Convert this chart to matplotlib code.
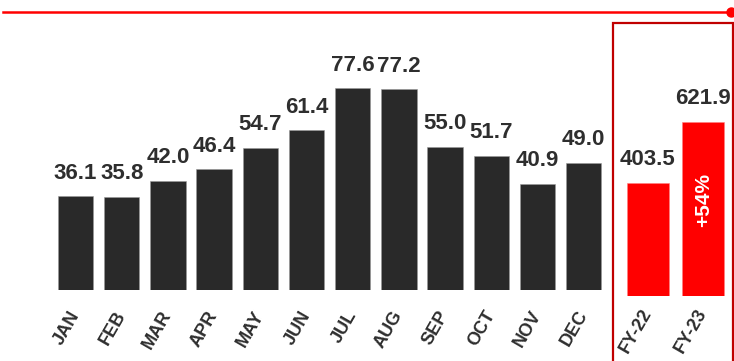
import matplotlib.pyplot as plt
from matplotlib.patches import Rectangle
from matplotlib.lines import Line2D

plt.rcParams['font.family'] = ['Liberation Sans', 'DejaVu Sans']
plt.rcParams['font.weight'] = 'bold'

months = ['JAN', 'FEB', 'MAR', 'APR', 'MAY', 'JUN',
          'JUL', 'AUG', 'SEP', 'OCT', 'NOV', 'DEC']
monthly = [36.1, 35.8, 42.0, 46.4, 54.7, 61.4,
           77.6, 77.2, 55.0, 51.7, 40.9, 49.0]
years = ['FY-22', 'FY-23']
yearly = [403.5, 621.9]
growth = '+54%'

W, H = 734, 361
fig = plt.figure(figsize=(W / 100, H / 100), dpi=100)


def px_axes(left, right, top, bottom):
    # axes rectangle given in pixels from the top-left corner
    return fig.add_axes([left / W, 1 - bottom / H, (right - left) / W, (bottom - top) / H])


dark = '#292929'
text_c = '#2e2e2e'
red = '#ff0000'

ax = px_axes(52.4, 606.8, 20, 290)
ax.bar(range(len(months)), monthly, width=0.77, color=dark, edgecolor='#9a9a9a', linewidth=0.4)
ax.set_xlim(-0.5, len(months) - 0.5)
ax.set_ylim(0, 270 / 2.6)
for i, v in enumerate(monthly):
    ax.annotate(f'{v:.1f}', (i, v), xytext=(0, 12.7), textcoords='offset points',
                ha='center', va='baseline', fontsize=16, fontweight='bold', color=text_c)
ax.set_xticks(range(len(months)))
ax.set_xticklabels(months, rotation=60, ha='right', va='center', rotation_mode='anchor',
                   fontsize=13, fontweight='bold', color=text_c)
ax.tick_params(axis='x', length=0, pad=16)
ax.set_yticks([])
for s in ax.spines.values():
    s.set_visible(False)

ax2 = px_axes(620, 731, 20, 296)
ax2.bar(range(len(years)), yearly, width=0.76, color=red, edgecolor='#ff8080', linewidth=0.4)
ax2.set_xlim(-0.5, len(years) - 0.5)
ax2.set_ylim(0, 276 / 0.28)
for i, v in enumerate(yearly):
    ax2.annotate(f'{v:.1f}', (i, v), xytext=(0, 12.7), textcoords='offset points',
                 ha='center', va='baseline', fontsize=16, fontweight='bold', color=text_c)
ax2.text(1, yearly[1] * 0.55, growth, rotation=90, ha='center', va='center',
         fontsize=15, fontweight='bold', color='white')
ax2.set_xticks(range(len(years)))
ax2.set_xticklabels(years, rotation=60, ha='right', va='center', rotation_mode='anchor',
                    fontsize=13, fontweight='bold', color=text_c)
ax2.tick_params(axis='x', length=0, pad=10)
ax2.set_yticks([])
for s in ax2.spines.values():
    s.set_visible(False)

# box around the yearly totals
fig.patches.append(Rectangle((613 / W, -0.05), (733 - 613) / W, 1.05 - 23 / H,
                             transform=fig.transFigure, fill=False,
                             edgecolor='#c00000', linewidth=1.6))

# red rule along the top with an end dot
fig.add_artist(Line2D([3 / W, 731 / W], [1 - 11.5 / H, 1 - 11.5 / H],
                      transform=fig.transFigure, color=red, linewidth=1.8))
fig.add_artist(Line2D([731 / W], [1 - 11.5 / H], transform=fig.transFigure,
                      marker='o', markersize=6.5, color=red))

fig.savefig('out.png', dpi=100)
